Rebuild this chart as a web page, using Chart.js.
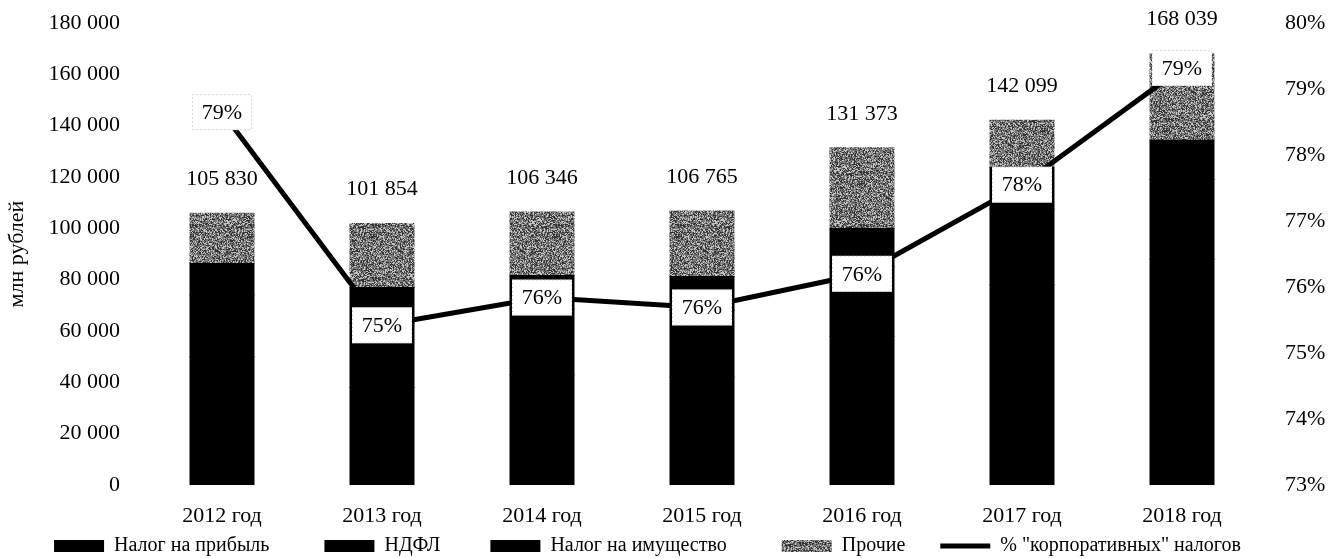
<!DOCTYPE html>
<html lang="ru">
<head>
<meta charset="utf-8">
<title>Налоговые поступления</title>
<script src="https://cdn.jsdelivr.net/npm/chart.js@4"></script>
<style>
  html, body { margin: 0; padding: 0; background: #fff; }
  #wrap { width: 1330px; height: 558px; }
</style>
</head>
<body>
<div id="wrap"><canvas id="taxChart"></canvas></div>
<script>
// Data (млн рублей)
const years = ['2012 год', '2013 год', '2014 год', '2015 год', '2016 год', '2017 год', '2018 год'];
const profitTax = [50000, 38000, 43000, 42000, 58000, 78000, 88000];
const ndfl = [24000, 25000, 25500, 26000, 27000, 29500, 31000];
const propertyTax = [12300, 13930, 13100, 13220, 14970, 16300, 15330];
const otherTax = [19530, 24924, 24746, 25545, 31403, 18299, 33709];
const corporateShare = [78.65, 75.42, 75.84, 75.69, 76.2, 77.55, 79.32];
const leftTicks = [0, 20000, 40000, 60000, 80000, 100000, 120000, 140000, 160000, 180000];
const rightTicks = [73, 74, 75, 76, 77, 78, 79, 80];

const FONT = '"Liberation Serif", "Times New Roman", serif';

// thousands with a space: 105 830
function fmt(n) {
  return String(Math.round(n)).replace(/\B(?=(\d{3})+(?!\d))/g, ' ');
}

// speckled grey fill for "Прочие"
function makeSpeckle() {
  const w = 61, h = 53;
  const c = document.createElement('canvas');
  c.width = w; c.height = h;
  const g = c.getContext('2d');
  g.fillStyle = '#767676';
  g.fillRect(0, 0, w, h);
  for (let y = 0; y < h; y++) {
    for (let x = 0; x < w; x++) {
      const n = Math.sin(x * 12.9898 + y * 78.233) * 43758.5453;
      const f = n - Math.floor(n);
      if (f < 0.3) g.fillStyle = '#333';
      else if (f > 0.76) g.fillStyle = '#c4c4c4';
      else continue;
      g.fillRect(x, y, 1, 1);
    }
  }
  return g.createPattern(c, 'repeat');
}
const speckle = makeSpeckle();

// gaps after legend texts, in spaces
const legendGaps = [11, 10, 11, 7, 7];

// labels: totals above the bars and boxed % values on the line
const valueLabels = {
  id: 'valueLabels',
  afterDatasetsDraw(chart) {
    const ctx = chart.ctx;
    const topMeta = chart.getDatasetMeta(3);
    const lineMeta = chart.getDatasetMeta(4);
    ctx.save();
    ctx.font = '22px ' + FONT;
    ctx.fillStyle = '#000';
    ctx.textAlign = 'center';
    ctx.textBaseline = 'middle';

    topMeta.data.forEach((bar, i) => {
      const total = profitTax[i] + ndfl[i] + propertyTax[i] + otherTax[i];
      ctx.fillText(fmt(total), bar.x, bar.y - 34);
    });

    lineMeta.data.forEach((pt, i) => {
      const w = 60, h = 36;
      ctx.fillStyle = '#fff';
      ctx.fillRect(pt.x - w / 2, pt.y - h / 2, w, h);
      ctx.setLineDash([1, 3]);
      ctx.strokeStyle = '#b8b8b8';
      ctx.lineWidth = 1;
      ctx.strokeRect(pt.x - w / 2 + 0.5, pt.y - h / 2 + 0.5, w - 1, h - 1);
      ctx.setLineDash([]);
      ctx.fillStyle = '#000';
      ctx.fillText(Math.round(corporateShare[i]) + '%', pt.x, pt.y + 1);
    });
    ctx.restore();
  }
};

// hidden tick marks keep the label gap without padding the chart top
const noGrid = { display: false, drawTicks: true, tickLength: 22, tickColor: 'rgba(0,0,0,0)' };

const ctx = document.getElementById('taxChart').getContext('2d');
new Chart(ctx, {
  type: 'bar',
  data: {
    labels: years,
    datasets: [
      { label: 'Налог на прибыль', data: profitTax, backgroundColor: '#000', yAxisID: 'y', order: 1 },
      { label: 'НДФЛ', data: ndfl, backgroundColor: '#000', yAxisID: 'y', order: 1 },
      { label: 'Налог на имущество', data: propertyTax, backgroundColor: '#000', yAxisID: 'y', order: 1 },
      { label: 'Прочие', data: otherTax, backgroundColor: speckle, yAxisID: 'y', order: 1 },
      {
        type: 'line',
        label: '% "корпоративных" налогов',
        data: corporateShare,
        yAxisID: 'y1',
        borderColor: '#000',
        backgroundColor: '#000',
        borderWidth: 5,
        pointRadius: 0,
        tension: 0,
        order: 0
      }
    ]
  },
  options: {
    responsive: true,
    maintainAspectRatio: false,
    animation: false,
    datasets: {
      bar: { barPercentage: 0.4, categoryPercentage: 1.0, inflateAmount: 0.5 }
    },
    layout: { padding: { top: 23, left: 0, right: 0, bottom: -8 } },
    plugins: {
      tooltip: { enabled: false },
      legend: {
        position: 'bottom',
        labels: {
          usePointStyle: true,
          pointStyleWidth: 50,
          boxHeight: 12,
          padding: 0,
          color: '#000',
          font: { family: FONT, size: 20 },
          sort: (a, b) => a.datasetIndex - b.datasetIndex,
          generateLabels(chart) {
            const items = Chart.defaults.plugins.legend.labels.generateLabels(chart);
            items.forEach(it => {
              const isLine = it.datasetIndex === 4;
              it.pointStyle = isLine ? 'line' : 'rect';
              if (!isLine) it.lineWidth = 0;
              it.text = it.text + ' '.repeat(legendGaps[it.datasetIndex]);
            });
            return items;
          }
        }
      }
    },
    scales: {
      x: {
        stacked: true,
        grid: { display: false, drawTicks: false },
        border: { display: false },
        ticks: { color: '#000', font: { family: FONT, size: 22 }, padding: 18 },
        afterFit(scale) { scale.height = 51; }
      },
      y: {
        stacked: true,
        position: 'left',
        min: 0,
        max: 180000,
        afterBuildTicks(scale) { scale.ticks = leftTicks.map(v => ({ value: v })); },
        grid: noGrid,
        border: { display: false },
        ticks: {
          color: '#000',
          font: { family: FONT, size: 22 },
          padding: 0,
          callback: v => fmt(v)
        },
        title: {
          display: true,
          text: 'млн рублей',
          color: '#000',
          font: { family: FONT, size: 22 },
          padding: { top: 4, bottom: 0 }
        },
        afterFit(scale) { scale.width = 142; }
      },
      y1: {
        position: 'right',
        min: 73,
        max: 80,
        afterBuildTicks(scale) { scale.ticks = rightTicks.map(v => ({ value: v })); },
        grid: Object.assign({}, noGrid, { tickLength: 23 }),
        border: { display: false },
        ticks: {
          color: '#000',
          font: { family: FONT, size: 22 },
          padding: 0,
          callback: v => v + '%'
        },
        afterFit(scale) { scale.width = 68; }
      }
    }
  },
  plugins: [valueLabels]
});
</script>
</body>
</html>
